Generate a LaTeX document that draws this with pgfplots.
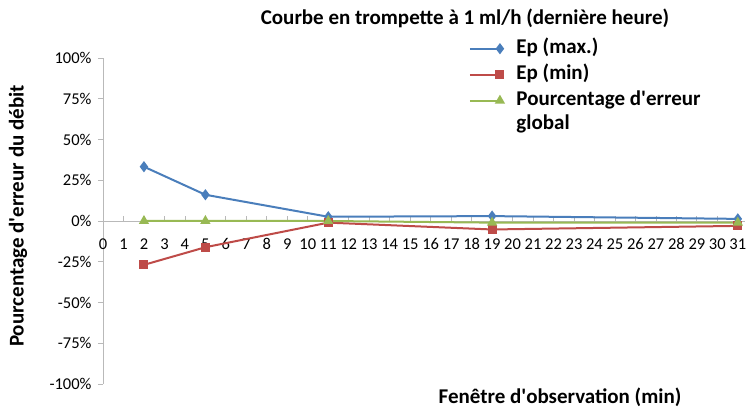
\documentclass[border=0pt]{standalone}
\usepackage{fontspec}
\setmainfont{Carlito}
\usepackage{pgfplots}
\pgfplotsset{compat=1.18}
\definecolor{epmax}{HTML}{4A7EBB}
\definecolor{epmin}{HTML}{BE4B48}
\definecolor{glob}{HTML}{98B954}
\begin{document}
\begin{tikzpicture}
\useasboundingbox (0,0) rectangle (750pt,407pt);
\begin{axis}[
  at={(103pt,23pt)}, anchor=south west,
  scale only axis, width=642pt, height=326pt,
  xmin=0, xmax=31.35, ymin=-100, ymax=100,
  axis x line=middle, axis y line=left,
  axis line style={-, draw=gray!55, line width=0.8pt},
  hide obscured x ticks=false,
  xtick={0,...,31}, ytick={-100,-75,...,100},
  tick align=outside, major tick length=5pt,
  tick style={draw=gray!55, line width=0.8pt},
  x tick style={yshift=5pt},
  /pgf/number format/assume math mode=true,
  yticklabel={\pgfmathprintnumber{\tick}\%},
  tick label style={font=\fontsize{16.5}{19}\selectfont},
  yticklabel style={xshift=-3pt},
  xticklabel style={yshift=-9pt},
  legend style={at={(0.565,1.066)}, anchor=north west, draw=none, fill=none,
    font=\fontsize{21}{24}\selectfont\bfseries, row sep=6pt,
    nodes={inner sep=0pt, text height=15pt, text depth=5pt},
    column sep=13pt},
  legend cell align=left,
  legend image code/.code={%
    \draw[#1, mark=none] (0pt,0pt) -- (30pt,0pt);
    \draw[#1] plot[only marks] coordinates {(30pt,0pt)};},
]
\addplot[epmax, line width=2pt, mark=diamond*, mark size=4pt]
  coordinates {(2,33.3) (5,16.1) (11,2.6) (19,3.0) (31,1.3)};
\addlegendentry{Ep (max.)}
\addplot[epmin, line width=2pt, mark=square*, mark size=3.5pt]
  coordinates {(2,-26.9) (5,-16.1) (11,-1.0) (19,-5.2) (31,-3.0)};
\addlegendentry{Ep (min)}
\addplot[glob, line width=2pt, mark=triangle*, mark size=4pt]
  coordinates {(2,0) (5,0) (11,0) (19,-1.0) (31,-1.0)};
\addlegendentry{\begin{tabular}[t]{@{}l@{}}Pourcentage d\textquotesingle erreur\\ global\end{tabular}}
\end{axis}
\node[font=\fontsize{21}{24}\selectfont\bfseries] at (465pt,389pt) {Courbe en trompette à 1 ml/h (dernière heure)};
\node[font=\fontsize{21}{24}\selectfont\bfseries, rotate=90] at (18pt,191pt) {Pourcentage d\textquotesingle erreur du débit};
\node[font=\fontsize{21}{24}\selectfont\bfseries] at (560pt,10pt) {Fenêtre d\textquotesingle observation (min)};
\end{tikzpicture}
\end{document}
